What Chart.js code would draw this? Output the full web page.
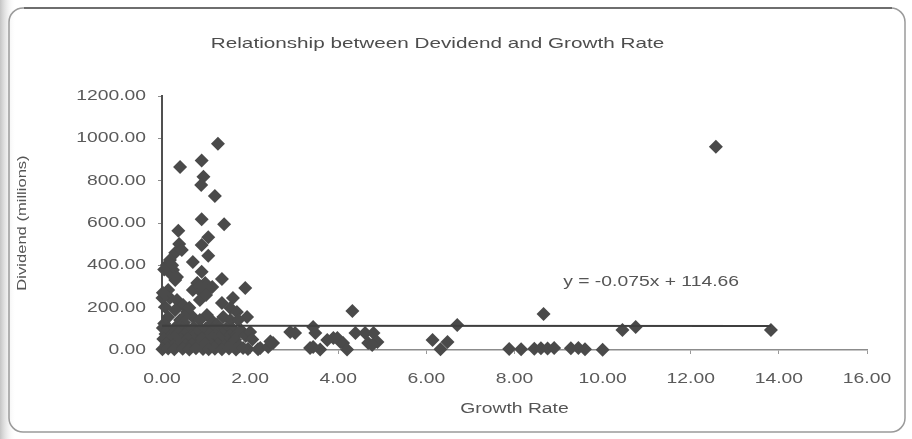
<!DOCTYPE html>
<html>
<head>
<meta charset="utf-8">
<title>Relationship between Devidend and Growth Rate</title>
<script src="https://cdn.jsdelivr.net/npm/chart.js@4.4.1/dist/chart.umd.min.js"></script>
<style>
    html, body { margin: 0; padding: 0; background: #fff; }
    canvas { display: block; }
</style>
</head>
<body>
<canvas id="chart" width="912" height="439"></canvas>
<script>
// Values (growth rate on x, dividend in millions on y)
const growthRate = [
    // tall outliers near the axis
    1.27, 0.41, 0.90, 0.94, 0.89, 1.20, 0.90, 1.41, 0.37, 1.05, 0.39, 0.90,
    1.05, 0.70, 0.90, 0.30, 0.11, 0.25, 0.30, 0.18, 0.18, 0.34, 0.45, 1.36,
    1.89, 0.80, 0.98, 1.14, 0.70, 0.91, 0.86, 1.05, 1.61, 1.36, 1.55, 1.70,
    1.93, 1.39, 0.14, 0.18, 0.34, 0.48, 0.30, 0.57, 0.70, 1.02, 0.07, 0.14,
    0.41, 0.86, 1.16, 1.55, 1.73, 0.01, 0.02, 0.23, 0.05, 0.62, 0.52, 0.85,
    0.95, 1.00, 0.05, 0.50, 1.25,
    // dense block under the trend line
    0.02, 0.15, 0.30, 0.45, 0.60, 0.72, 0.88, 1.00, 1.15, 1.30, 1.45, 1.62, 1.80,
    0.08, 0.22, 0.37, 0.52, 0.66, 0.80, 0.95, 1.08, 1.22, 1.38, 1.55, 1.70, 1.90,
    0.03, 0.17, 0.30, 0.44, 0.58, 0.74, 0.90, 1.03, 1.18, 1.33, 1.50, 1.66,
    0.10, 0.25, 0.40, 0.55, 0.69, 0.84, 0.98, 1.12, 1.27, 1.42, 1.58, 1.76,
    0.01, 0.14, 0.28, 0.47, 0.62, 0.77, 0.93, 1.06, 1.20, 1.36, 1.52, 1.68, 1.95,
    // 2 to 5
    2.00, 1.84, 2.18, 2.23, 2.41, 2.52, 2.46, 2.91, 3.02, 3.43, 3.48, 3.36,
    3.59, 3.43, 3.75, 3.89, 4.05, 3.98, 4.11, 4.20, 4.32, 4.39, 4.61, 4.80,
    4.89, 4.68, 4.77, 2.05,
    // the far right
    6.14, 6.48, 6.32, 6.70, 8.66, 7.88, 8.15, 8.45, 8.60, 8.75, 8.90, 9.28,
    9.45, 9.60, 10.00, 10.45, 10.75, 13.82, 12.57,
];

const dividend = [
    974, 865, 895, 819, 780, 728, 618, 594, 563, 533, 501, 496,
    445, 416, 370, 459, 402, 378, 331, 425, 364, 345, 473, 336,
    293, 317, 317, 298, 284, 270, 236, 284, 246, 222, 199, 180,
    156, 156, 284, 246, 236, 213, 189, 180, 156, 165, 203, 156,
    142, 142, 132, 142, 142, 246, 270, 400, 380, 200, 160, 300,
    290, 260, 125, 130, 120,
    104, 98, 106, 101, 95, 108, 99, 103, 96, 105, 100, 97, 92,
    76, 72, 79, 74, 70, 78, 73, 77, 71, 75, 69, 74, 66,
    52, 48, 55, 46, 51, 49, 54, 47, 50, 53, 45, 49,
    27, 23, 28, 21, 26, 24, 29, 22, 25, 20, 27, 18,
    4, 7, 3, 6, 2, 8, 5, 3, 6, 4, 7, 2, 5,
    85, 9, 3, 9, 14, 33, 40, 85, 80, 109, 80, 9,
    2, 14, 47, 57, 38, 57, 33, 2, 184, 80, 80, 80,
    38, 33, 24, 50,
    47, 38, 3, 118, 170, 5, 3, 6, 8, 7, 10, 8,
    9, 4, 1, 95, 109, 95, 960,
];

// Linear trend line as Excel drew it
const trendX = [0, 13.82];
const trendY = [114.66, 113.62];
const trendLabel = "y = -0.075x + 114.66";

const xTickLabels = ["0.00", "2.00", "4.00", "6.00", "8.00", "10.00", "12.00", "14.00", "16.00"];
const yTickLabels = ["0.00", "200.00", "400.00", "600.00", "800.00", "1000.00", "1200.00"];

const canvas = document.getElementById("chart");
const ctx = canvas.getContext("2d");

// The scan is stretched sideways, so stretch every piece of text the same way
const STRETCH = 1.38;
const rawFillText = ctx.fillText.bind(ctx);
const rawMeasureText = ctx.measureText.bind(ctx);
ctx.fillText = function (text, x, y, maxWidth) {
    this.save();
    this.translate(x, y);
    this.scale(STRETCH, 1);
    if (maxWidth === undefined) rawFillText(text, 0, 0);
    else rawFillText(text, 0, 0, maxWidth / STRETCH);
    this.restore();
};
ctx.measureText = function (text) {
    const m = rawMeasureText(text);
    return {
        width: m.width * STRETCH,
        actualBoundingBoxAscent: m.actualBoundingBoxAscent,
        actualBoundingBoxDescent: m.actualBoundingBoxDescent,
    };
};

const FONT = "'Liberation Sans', Arial, sans-serif";

// Paper background and the rounded chart frame
const backdrop = {
    id: "backdrop",
    beforeDraw(chart) {
        const c = chart.ctx;
        c.save();
        c.fillStyle = "#ffffff";
        c.fillRect(0, 0, chart.width, chart.height);
        const g = c.createLinearGradient(0, 0, 16, 0);
        g.addColorStop(0, "#c4c4c4");
        g.addColorStop(1, "rgba(255,255,255,0)");
        c.fillStyle = g;
        c.fillRect(0, 0, 16, chart.height);
        c.strokeStyle = "#9a9a9a";
        c.lineWidth = 1.5;
        c.beginPath();
        c.roundRect(9, 8, 896, 424, 14);
        c.stroke();
        c.strokeStyle = "#6e6e6e";
        c.lineWidth = 2;
        c.beginPath();
        c.moveTo(24, 8);
        c.lineTo(892, 8);
        c.stroke();
        c.restore();
    },
};

// Equation text next to the trend line
const trendText = {
    id: "trendText",
    afterDatasetsDraw(chart) {
        const c = chart.ctx;
        const x = chart.scales.x.getPixelForValue(11.1);
        const y = chart.scales.y.getPixelForValue(322);
        c.save();
        c.font = "14px " + FONT;
        c.fillStyle = "#555555";
        c.textAlign = "center";
        c.textBaseline = "middle";
        c.fillText(trendLabel, x, y);
        c.restore();
    },
};

const points = growthRate.map((x, i) => ({ x: x, y: dividend[i] }));
const trend = trendX.map((x, i) => ({ x: x, y: trendY[i] }));

new Chart(ctx, {
    type: "scatter",
    data: {
        datasets: [
            {
                type: "line",
                label: "Linear (Dividend)",
                data: trend,
                borderColor: "#3f3f3f",
                borderWidth: 2,
                pointRadius: 0,
                fill: false,
            },
            {
                label: "Dividend",
                data: points,
                pointStyle: "rectRot",
                pointRadius: 7,
                backgroundColor: "#4a4a4a",
                borderColor: "#4a4a4a",
                borderWidth: 0,
                clip: false,
            },
        ],
    },
    options: {
        responsive: false,
        animation: false,
        layout: {
            padding: { left: 8, right: 45, top: 0, bottom: 0 },
        },
        plugins: {
            legend: { display: false },
            tooltip: { enabled: false },
            title: {
                display: true,
                text: "Relationship between Devidend and Growth Rate",
                color: "#4d4d4d",
                font: { family: FONT, size: 15, weight: "normal" },
                padding: { top: 35, bottom: 43 },
            },
        },
        scales: {
            x: {
                type: "linear",
                min: 0,
                max: 16,
                afterFit(scale) {
                    scale.height = 89;
                },
                afterBuildTicks(scale) {
                    scale.ticks = xTickLabels.map((t, i) => ({ value: i * 2 }));
                },
                ticks: {
                    color: "#5a5a5a",
                    font: { family: FONT, size: 14 },
                    padding: 17,
                    maxRotation: 0,
                    autoSkip: false,
                    callback: (value, index) => xTickLabels[index],
                },
                grid: {
                    drawOnChartArea: false,
                    drawTicks: true,
                    tickLength: 4,
                    color: "#999999",
                },
                border: { display: true, color: "#8c8c8c", width: 1.5 },
                title: {
                    display: true,
                    text: "Growth Rate",
                    color: "#555555",
                    font: { family: FONT, size: 14 },
                    padding: { top: 0, bottom: 21 },
                },
            },
            y: {
                type: "linear",
                min: 0,
                max: 1200,
                afterFit(scale) {
                    scale.width = 154;
                },
                afterBuildTicks(scale) {
                    scale.ticks = yTickLabels.map((t, i) => ({ value: i * 200 }));
                },
                ticks: {
                    color: "#5a5a5a",
                    font: { family: FONT, size: 14 },
                    padding: 12,
                    callback: (value, index) => yTickLabels[index],
                },
                grid: {
                    drawOnChartArea: false,
                    drawTicks: true,
                    tickLength: 4,
                    color: "#8c8c8c",
                },
                border: { display: true, color: "#505050", width: 2 },
                title: {
                    display: true,
                    text: "Dividend (millions)",
                    color: "#555555",
                    font: { family: FONT, size: 12 },
                    padding: { top: 7, bottom: 0 },
                },
            },
        },
    },
    plugins: [backdrop, trendText],
});
</script>
</body>
</html>
